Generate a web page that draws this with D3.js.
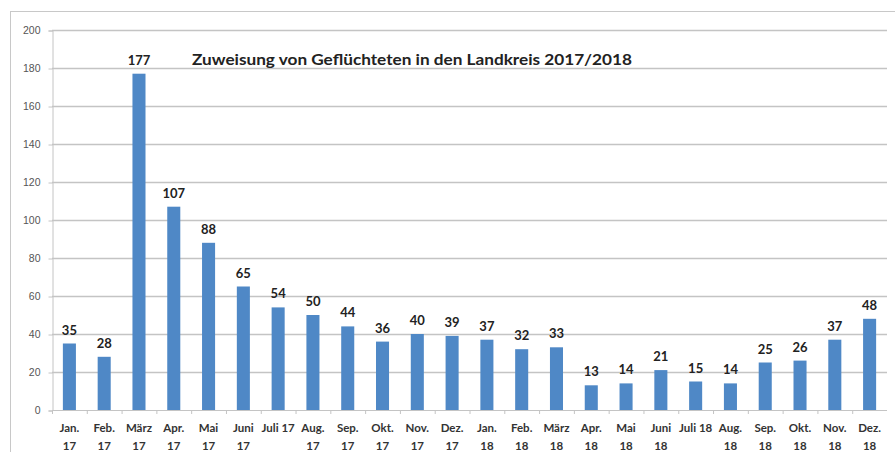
<!DOCTYPE html>
<html>
<head>
<meta charset="utf-8">
<script src="https://cdn.jsdelivr.net/npm/d3@7"></script>
<style>
  body { margin: 0; background: #fff; }
  svg { font-family: Lato, "Open Sans", sans-serif; }
</style>
</head>
<body>
<svg id="chart" width="895" height="452"></svg>
<script>
const months = ["Jan.|17", "Feb.|17", "März|17", "Apr.|17", "Mai|17", "Juni|17", "Juli 17", "Aug.|17",
  "Sep.|17", "Okt.|17", "Nov.|17", "Dez.|17", "Jan.|18", "Feb.|18", "März|18", "Apr.|18", "Mai|18",
  "Juni|18", "Juli 18", "Aug.|18", "Sep.|18", "Okt.|18", "Nov.|18", "Dez.|18"];
const counts = [35, 28, 177, 107, 88, 65, 54, 50, 44, 36, 40, 39, 37, 32, 33, 13, 14, 21, 15, 14, 25, 26, 37, 48];
const yTicks = [0, 20, 40, 60, 80, 100, 120, 140, 160, 180, 200];
const title = "Zuweisung von Geflüchteten in den Landkreis 2017/2018";

const svg = d3.select("#chart");
const plotLeft = 52, plotRight = 887, plotTop = 30, plotBottom = 410;

// outer frame
svg.append("rect")
  .attr("x", 10.5).attr("y", 11.5)
  .attr("width", 900).attr("height", 460)
  .attr("fill", "none").attr("stroke", "#c8c8c8");

const x = d3.scaleBand().domain(months).range([plotLeft, plotRight]).paddingInner(0.625).paddingOuter(0.3125);
const y = d3.scaleLinear().domain([0, 200]).range([plotBottom, plotTop]);

// gridlines
svg.append("g")
  .selectAll("line")
  .data(yTicks.slice(1))
  .enter().append("line")
  .attr("x1", plotLeft).attr("x2", plotRight)
  .attr("y1", d => y(d) + 0.5).attr("y2", d => y(d) + 0.5)
  .attr("stroke", "#c4c4c4")
  .attr("stroke-width", 1.3);

// y axis
const yAxis = svg.append("g")
  .attr("transform", "translate(" + (plotLeft + 0.5) + ",0.5)")
  .call(d3.axisLeft(y).tickValues(yTicks).tickSize(4).tickPadding(8));
yAxis.select(".domain").attr("stroke", "#c4c4c4");
yAxis.selectAll(".tick line").attr("stroke", "#c4c4c4");
yAxis.selectAll(".tick text").attr("fill", "#555").style("font-size", "10.5px");

// x axis line and ticks between categories
const xg = svg.append("g");
xg.append("line")
  .attr("x1", plotLeft).attr("x2", plotRight)
  .attr("y1", plotBottom + 0.5).attr("y2", plotBottom + 0.5)
  .attr("stroke", "#c4c4c4");
xg.selectAll(".sep")
  .data(months)
  .enter().append("line")
  .attr("class", "sep")
  .attr("x1", d => x(d) - x.step() * x.paddingInner() / 2 + 0.5)
  .attr("x2", d => x(d) - x.step() * x.paddingInner() / 2 + 0.5)
  .attr("y1", plotBottom).attr("y2", plotBottom + 4)
  .attr("stroke", "#c4c4c4");

// bars
svg.append("g")
  .selectAll("rect")
  .data(counts)
  .enter().append("rect")
  .attr("x", (d, i) => x(months[i]))
  .attr("y", d => y(d))
  .attr("width", x.bandwidth())
  .attr("height", d => plotBottom - y(d))
  .attr("fill", "#4f88c6");

// value labels
svg.append("g")
  .selectAll("text")
  .data(counts)
  .enter().append("text")
  .attr("x", (d, i) => x(months[i]) + x.bandwidth() / 2)
  .attr("y", d => y(d) - 9)
  .attr("text-anchor", "middle")
  .style("font-size", "13px")
  .style("font-weight", "bold")
  .attr("fill", "#222")
  .text(d => d);

// category labels
const cat = svg.append("g")
  .selectAll("text")
  .data(months)
  .enter().append("text")
  .attr("x", d => x(d) + x.bandwidth() / 2)
  .attr("text-anchor", "middle")
  .style("font-size", "11.5px")
  .style("font-weight", "bold")
  .attr("fill", "#333");
cat.each(function(d) {
  const parts = d.split("|");
  parts.forEach(function(p, k) {
    d3.select(this).append("tspan")
      .attr("x", x(d) + x.bandwidth() / 2)
      .attr("y", 432 + k * 18)
      .text(p);
  }, this);
});

// title
svg.append("text")
  .attr("x", 412).attr("y", 65)
  .attr("text-anchor", "middle")
  .attr("textLength", 440)
  .attr("lengthAdjust", "spacingAndGlyphs")
  .style("font-size", "14.5px")
  .style("font-weight", "bold")
  .attr("fill", "#222")
  .text(title);
</script>
</body>
</html>
